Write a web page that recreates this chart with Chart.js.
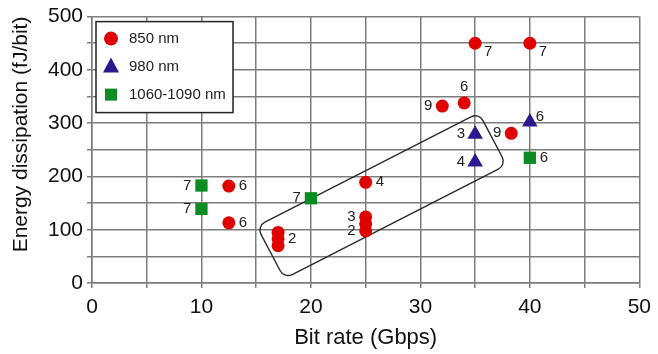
<!DOCTYPE html>
<html>
<head>
<meta charset="utf-8">
<script src="https://cdn.jsdelivr.net/npm/chart.js@4.4.1/dist/chart.umd.min.js"></script>
<style>
  html, body { margin: 0; padding: 0; background: #fff; }
  #wrap { width: 658px; height: 354px; position: relative; }
</style>
</head>
<body>
<div id="wrap"><canvas id="c" width="658" height="354"></canvas></div>
<script>
// ---- data ----
const seriesNames = ['850 nm', '980 nm', '1060-1090 nm'];

const redX = [35, 40, 34, 32, 38.3, 12.5, 12.5, 17, 17, 17, 25, 25, 25, 25];
const redY = [450, 450, 338, 332, 281, 182, 113, 95, 83, 70, 189, 124, 111, 98];
const redLabels = ['7', '7', '6', '9', '9', '6', '6', '', '2', '', '4', '3', '', '2'];

const blueX = [35, 40, 35];
const blueY = [279, 302, 227];
const blueLabels = ['3', '6', '4'];

const greenX = [10, 10, 20, 40];
const greenY = [183, 139, 159, 235];
const greenLabels = ['7', '7', '7', '6'];

const xTicks = [0, 10, 20, 30, 40, 50];
const yTicks = [0, 100, 200, 300, 400, 500];

// corners of the highlighted region (data coordinates)
const boxX = [15.05, 35.34, 37.86, 17.57];
const boxY = [106.3, 319.6, 221.4, 8.3];

// ---- label placement (style) ----
const redSides = ['br', 'br', 't', 'l', 'l', 'r', 'r', '', 'r', '', 'r', 'l', '', 'l'];
const blueSides = ['l', 'tr', 'l'];
const greenSides = ['l', 'l', 'l', 'r'];

const COLORS = ['#e00000', '#2b1a8f', '#0b8c23'];
const GRID = '#7d7d7d';

function pts(xs, ys) { return xs.map((x, i) => ({ x: x, y: ys[i] })); }

const labelPlugin = {
  id: 'pointLabels',
  afterDatasetsDraw(chart) {
    const ctx = chart.ctx;
    ctx.save();
    ctx.font = '15px "Liberation Sans", Arial, sans-serif';
    ctx.fillStyle = '#222';
    chart.data.datasets.forEach((ds, di) => {
      const meta = chart.getDatasetMeta(di);
      meta.data.forEach((el, i) => {
        const t = ds.pointText[i];
        if (!t) return;
        const side = ds.pointSide[i];
        let x = el.x, y = el.y;
        ctx.textBaseline = 'middle';
        if (side === 'r') { ctx.textAlign = 'left'; x += 10; }
        else if (side === 'l') { ctx.textAlign = 'right'; x -= 10; }
        else if (side === 't') { ctx.textAlign = 'center'; y -= 16; }
        else if (side === 'br') { ctx.textAlign = 'left'; x += 9; y += 9; }
        else if (side === 'tr') { ctx.textAlign = 'left'; x += 6; y -= 5; }
        ctx.fillText(t, x, y);
      });
    });
    ctx.restore();
  }
};

const boxPlugin = {
  id: 'regionBox',
  beforeDatasetsDraw(chart) {
    const xs = chart.scales.x, ys = chart.scales.y;
    const p = boxX.map((v, i) => [xs.getPixelForValue(v), ys.getPixelForValue(boxY[i])]);
    const ctx = chart.ctx;
    const r = 9;
    ctx.save();
    ctx.beginPath();
    const mid = [(p[0][0] + p[1][0]) / 2, (p[0][1] + p[1][1]) / 2];
    ctx.moveTo(mid[0], mid[1]);
    for (let k = 1; k <= 4; k++) {
      const a = p[k % 4], b = p[(k + 1) % 4];
      ctx.arcTo(a[0], a[1], b[0], b[1], r);
    }
    ctx.closePath();
    ctx.strokeStyle = '#2a2a2a';
    ctx.lineWidth = 1.4;
    ctx.stroke();
    ctx.restore();
  }
};

const legendPlugin = {
  id: 'boxLegend',
  afterDraw(chart) {
    const ctx = chart.ctx;
    const a = chart.chartArea;
    const x0 = a.left + 4, y0 = a.top + 5, w = 137, h = 91;
    ctx.save();
    ctx.fillStyle = '#fff';
    ctx.fillRect(x0, y0, w, h);
    ctx.strokeStyle = '#222';
    ctx.lineWidth = 1.5;
    ctx.strokeRect(x0, y0, w, h);
    const rows = [y0 + 17, y0 + 45, y0 + 73];
    const mx = x0 + 15;
    ctx.font = '15px "Liberation Sans", Arial, sans-serif';
    ctx.textBaseline = 'middle';
    ctx.textAlign = 'left';
    chart.data.datasets.forEach((ds, i) => {
      const y = rows[i];
      ctx.fillStyle = ds.backgroundColor;
      ctx.beginPath();
      if (i === 0) { ctx.arc(mx, y, 7, 0, Math.PI * 2); }
      else if (i === 1) { ctx.moveTo(mx, y - 9); ctx.lineTo(mx + 8, y + 6); ctx.lineTo(mx - 8, y + 6); ctx.closePath(); }
      else { ctx.rect(mx - 6, y - 6, 12, 12); }
      ctx.fill();
      ctx.fillStyle = '#222';
      ctx.fillText(ds.label, x0 + 33, y);
    });
    ctx.restore();
  }
};

new Chart(document.getElementById('c'), {
  type: 'scatter',
  data: {
    datasets: [
      { label: seriesNames[0], data: pts(redX, redY), pointStyle: 'circle', pointRadius: 6.5, pointHoverRadius: 6.5,
        backgroundColor: COLORS[0], borderWidth: 0, pointText: redLabels, pointSide: redSides },
      { label: seriesNames[1], data: pts(blueX, blueY), pointStyle: 'triangle', pointRadius: 9, pointHoverRadius: 9,
        backgroundColor: COLORS[1], borderWidth: 0, pointText: blueLabels, pointSide: blueSides },
      { label: seriesNames[2], data: pts(greenX, greenY), pointStyle: 'rect', pointRadius: 8.7, pointHoverRadius: 8.7,
        backgroundColor: COLORS[2], borderWidth: 0, pointText: greenLabels, pointSide: greenSides }
    ]
  },
  options: {
    responsive: false,
    animation: false,
    clip: false,
    layout: { padding: { left: 0, right: 18, top: 12, bottom: 0 } },
    plugins: { legend: { display: false }, tooltip: { enabled: false } },
    scales: {
      x: {
        type: 'linear', min: 0, max: 50,
        afterFit(s) { s.height = 71; },
        ticks: {
          stepSize: 5, padding: 7, color: '#111', maxRotation: 0, autoSkip: false,
          font: { family: '"Liberation Sans", Arial, sans-serif', size: 21 },
          callback: (v) => xTicks.includes(v) ? String(v) : ''
        },
        grid: { color: GRID, lineWidth: 1.5, tickLength: 5, drawTicks: true },
        border: { color: GRID, width: 1.5 },
        title: { display: true, text: 'Bit rate (Gbps)', color: '#111',
          font: { family: '"Liberation Sans", Arial, sans-serif', size: 22 }, padding: { top: 0, bottom: 3 } }
      },
      y: {
        type: 'linear', min: 0, max: 500,
        afterFit(s) { s.width = 92; },
        ticks: {
          stepSize: 50, padding: 4, color: '#111', autoSkip: false,
          font: { family: '"Liberation Sans", Arial, sans-serif', size: 21 },
          callback: (v) => yTicks.includes(v) ? String(v) : ''
        },
        grid: { color: GRID, lineWidth: 1.5, tickLength: 5, drawTicks: true },
        border: { color: GRID, width: 1.5 },
        title: { display: true, text: 'Energy dissipation (fJ/bit)', color: '#111', align: 'end',
          font: { family: '"Liberation Sans", Arial, sans-serif', size: 21 }, padding: { top: 9, bottom: 0 } }
      }
    }
  },
  plugins: [boxPlugin, labelPlugin, legendPlugin]
});
</script>
</body>
</html>
